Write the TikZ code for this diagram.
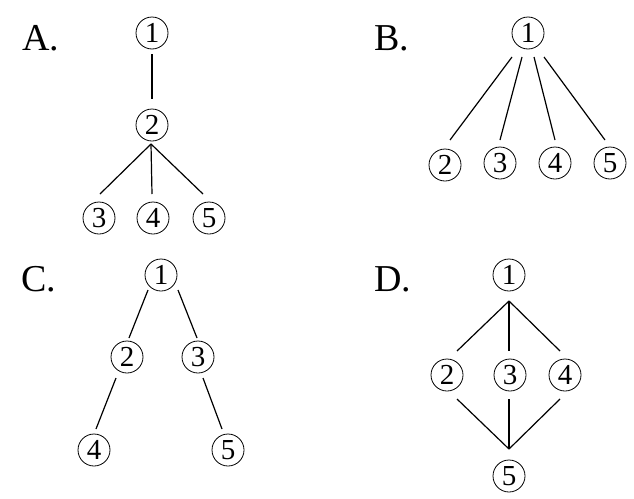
\documentclass[tikz,border=0pt]{standalone}
\usepackage{fontspec}
\setmainfont{Liberation Serif}
\usetikzlibrary{calc}
\begin{document}
\begin{tikzpicture}[x=1pt,y=-1pt,
  num/.style={circle,draw,line width=0.8pt,minimum size=32pt,inner sep=0pt,font=\fontsize{29}{31}\selectfont},
  lab/.style={anchor=base west,inner sep=0pt,font=\fontsize{38}{42}\selectfont},
  edge/.style={line width=1.2pt}]
\useasboundingbox (0,0) rectangle (634,498);
% A
\node[lab] (la) at (22,50) {A.};
\node[num] (a1) at (152,33) {1};
\node[num] (a2) at (152,125) {2};
\node[num] (a3) at (99,218) {3};
\node[num] (a4) at (153,218) {4};
\node[num] (a5) at (209,218) {5};
\draw[edge] ($(a1)+(0,21)$) -- ($(a2)+(0,-26)$);
\draw[edge] ($(a2)+(-1,19)$) -- ($(a3)+(1,-24)$);
\draw[edge] ($(a2)+(-1,19)$) -- ($(a4)+(-1,-24)$);
\draw[edge] ($(a2)+(-1,19)$) -- ($(a5)+(-6,-24)$);
% B
\node[lab] (lb) at (374,50) {B.};
\node[num] (b1) at (528,33) {1};
\node[num] (b2) at (445,165) {2};
\node[num] (b3) at (500,163) {3};
\node[num] (b4) at (555,163) {4};
\node[num] (b5) at (610,163) {5};
\draw[edge] ($(b1)+(-16,24)$) -- ($(b2)+(5,-25)$);
\draw[edge] ($(b1)+(-6,24)$) -- ($(b3)+(0,-23)$);
\draw[edge] ($(b1)+(6,24)$) -- ($(b4)+(0,-23)$);
\draw[edge] ($(b1)+(16,24)$) -- ($(b5)+(-5,-23)$);
% C
\node[lab] (lc) at (21,291) {C.};
\node[num] (c1) at (161,275) {1};
\node[num] (c2) at (127,357) {2};
\node[num] (c3) at (198,357) {3};
\node[num] (c4) at (94,450) {4};
\node[num] (c5) at (228,450) {5};
\draw[edge] ($(c1)+(-13,15)$) -- ($(c2)+(2,-19)$);
\draw[edge] ($(c1)+(17,15)$) -- ($(c3)+(-1,-19)$);
\draw[edge] ($(c2)+(-11,21)$) -- ($(c4)+(2,-21)$);
\draw[edge] ($(c3)+(5,21)$) -- ($(c5)+(-6,-21)$);
% D
\node[lab] (ld) at (374,291) {D.};
\node[num] (d1) at (509,275) {1};
\node[num] (d2) at (447,375) {2};
\node[num] (d3) at (510,375) {3};
\node[num] (d4) at (565,375) {4};
\node[num] (d5) at (509,476) {5};
\draw[edge] ($(d1)+(0,26)$) -- ($(d2)+(10,-24)$);
\draw[edge] ($(d1)+(0,26)$) -- ($(d3)+(-1,-24)$);
\draw[edge] ($(d1)+(0,26)$) -- ($(d4)+(-5,-24)$);
\draw[edge] ($(d2)+(10,24)$) -- ($(d5)+(0,-27)$);
\draw[edge] ($(d3)+(-1,24)$) -- ($(d5)+(0,-27)$);
\draw[edge] ($(d4)+(-5,24)$) -- ($(d5)+(0,-27)$);
\end{tikzpicture}
\end{document}
